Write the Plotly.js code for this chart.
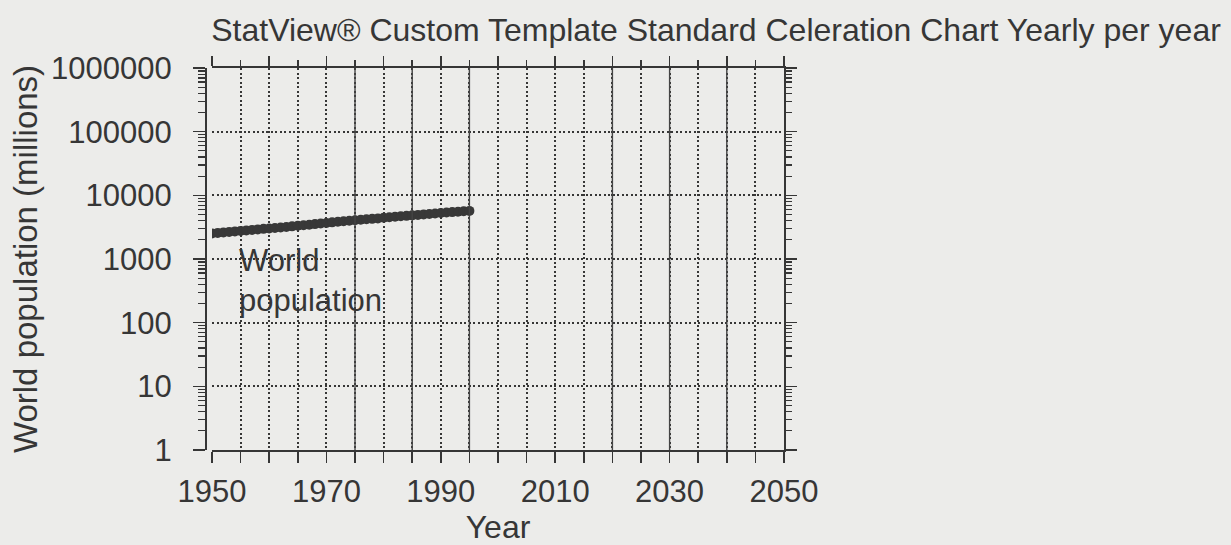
<!DOCTYPE html>
<html>
<head>
<meta charset="utf-8">
<script src="https://cdn.plot.ly/plotly-3.0.1.min.js"></script>
<style>
  body { margin: 0; background: #ececea; }
  #chart { width: 1231px; height: 545px; }
</style>
</head>
<body>
<div id="chart"></div>
<script>
// world population, millions, one point per year
var years = [1950, 1951, 1952, 1953, 1954, 1955, 1956, 1957, 1958, 1959,
             1960, 1961, 1962, 1963, 1964, 1965, 1966, 1967, 1968, 1969,
             1970, 1971, 1972, 1973, 1974, 1975, 1976, 1977, 1978, 1979,
             1980, 1981, 1982, 1983, 1984, 1985, 1986, 1987, 1988, 1989,
             1990, 1991, 1992, 1993, 1994, 1995];
var population = [2525, 2572, 2619, 2665, 2713, 2762, 2812, 2864, 2918, 2974,
                  3019, 3068, 3124, 3189, 3255, 3322, 3392, 3461, 3532, 3607,
                  3682, 3761, 3837, 3912, 3987, 4060, 4131, 4201, 4271, 4343,
                  4440, 4519, 4600, 4681, 4762, 4845, 4930, 5017, 5104, 5191,
                  5280, 5366, 5451, 5535, 5618, 5700];
var yTickVals = [1, 10, 100, 1000, 10000, 100000, 1000000];
var yTickText = ['1', '10', '100', '1000', '10000', '100000', '1000000'];
var xTickVals = [1950, 1970, 1990, 2010, 2030, 2050];
// grid lines that print solid on the scanned chart
var solidGridYears = [1975, 1985, 1995, 2020, 2030, 2040];

var ink = '#363636';
var font = 'Liberation Sans, Arial, Helvetica, sans-serif';
var dots = '2px,2.5px';

var trace = {
  x: years,
  y: population,
  mode: 'markers',
  type: 'scatter',
  marker: {color: '#383838', size: 10},
  showlegend: false,
  hoverinfo: 'x+y'
};

// empty traces so the mirrored top / right axes get drawn
var topAxis = {x: [], y: [], xaxis: 'x2', yaxis: 'y', type: 'scatter', showlegend: false};
var rightAxis = {x: [], y: [], xaxis: 'x', yaxis: 'y2', type: 'scatter', showlegend: false};

var solidLines = solidGridYears.map(function (yr) {
  return {type: 'line', xref: 'x', yref: 'paper', x0: yr, x1: yr, y0: 0, y1: 1,
          layer: 'above', line: {color: '#444444', width: 1.4}};
});

var layout = {
  width: 1231,
  height: 545,
  paper_bgcolor: '#ececea',
  plot_bgcolor: '#ececea',
  margin: {l: 206, r: 447, t: 68, b: 95},
  font: {family: font, color: ink, size: 31},
  title: {
    text: 'StatView® Custom Template Standard Celeration Chart Yearly per year',
    font: {size: 32, color: ink},
    xref: 'container', x: 0.5817, xanchor: 'center',
    yref: 'container', y: 0.945, yanchor: 'middle'
  },
  xaxis: {
    range: [1950, 2050],
    domain: [0.0104, 1],
    anchor: 'y',
    tickmode: 'array', tickvals: xTickVals,
    ticks: 'outside', ticklen: 11, tickwidth: 1.5, tickcolor: ink,
    minor: {dtick: 5, ticks: 'outside', ticklen: 11, tickwidth: 1.5, tickcolor: ink, showgrid: false},
    showline: true, linecolor: ink, linewidth: 2,
    showgrid: false, zeroline: false,
    ticklabelstandoff: 2,
    tickfont: {size: 31, color: ink},
    title: {text: 'Year', font: {size: 32, color: ink}, standoff: 8}
  },
  xaxis2: {
    range: [1950, 2050],
    domain: [0.0104, 1],
    overlaying: 'x', side: 'top', anchor: 'y',
    dtick: 10, showticklabels: false,
    ticks: 'outside', ticklen: 10, tickwidth: 1.5, tickcolor: ink,
    minor: {dtick: 5, ticks: 'outside', ticklen: 6, tickwidth: 1.5, tickcolor: ink,
            showgrid: true, gridcolor: ink, gridwidth: 2, griddash: dots},
    showline: true, linecolor: ink, linewidth: 2,
    showgrid: true, gridcolor: ink, gridwidth: 2, griddash: dots,
    zeroline: false
  },
  yaxis: {
    type: 'log',
    range: [0, 6],
    domain: [0, 1],
    anchor: 'free', position: 0,
    tickmode: 'array', tickvals: yTickVals, ticktext: yTickText,
    ticks: 'outside', ticklen: 12, tickwidth: 1.5, tickcolor: ink,
    minor: {dtick: 'D1', ticks: 'outside', ticklen: 7, tickwidth: 1.3, tickcolor: ink, showgrid: false},
    showline: true, linecolor: ink, linewidth: 2,
    showgrid: true, gridcolor: ink, gridwidth: 2, griddash: dots,
    zeroline: false,
    ticklabelstandoff: 15,
    tickfont: {size: 31, color: ink},
    title: {text: 'World population (millions)', font: {size: 33, color: ink}, standoff: 3}
  },
  yaxis2: {
    type: 'log',
    range: [0, 6],
    domain: [0, 1],
    overlaying: 'y', side: 'right', anchor: 'x',
    dtick: 1, showticklabels: false,
    ticks: 'outside', ticklen: 11, tickwidth: 1.5, tickcolor: ink,
    minor: {dtick: 'D1', ticks: 'outside', ticklen: 6, tickwidth: 1.3, tickcolor: ink, showgrid: false},
    showline: true, linecolor: ink, linewidth: 2,
    showgrid: false, zeroline: false
  },
  shapes: solidLines,
  annotations: [{
    x: 1954.3, y: 2.67, xref: 'x', yref: 'y',
    text: 'World<br>population',
    showarrow: false, align: 'left', xanchor: 'left', yanchor: 'middle',
    font: {size: 31, color: ink, family: font}
  }]
};

Plotly.newPlot('chart', [topAxis, rightAxis, trace], layout, {staticPlot: true});
</script>
</body>
</html>
